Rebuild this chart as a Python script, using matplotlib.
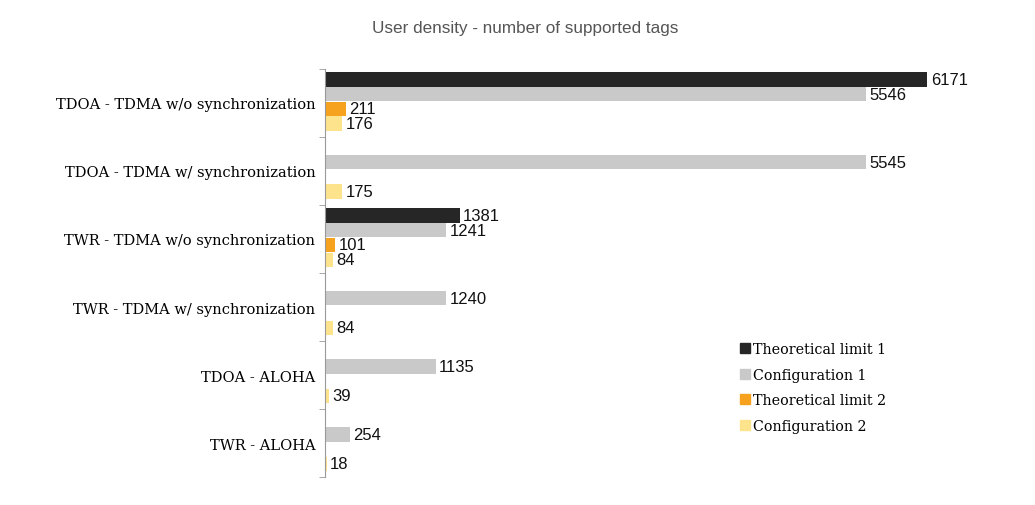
import numpy as np
import matplotlib.pyplot as plt

# --- data ---
categories = [
    "TDOA - TDMA w/o synchronization",
    "TDOA - TDMA w/ synchronization",
    "TWR - TDMA w/o synchronization",
    "TWR - TDMA w/ synchronization",
    "TDOA - ALOHA",
    "TWR - ALOHA",
]
series_names = ["Theoretical limit 1", "Configuration 1", "Theoretical limit 2", "Configuration 2"]
theoretical_1 = [6171, np.nan, 1381, np.nan, np.nan, np.nan]
config_1 = [5546, 5545, 1241, 1240, 1135, 254]
theoretical_2 = [211, np.nan, 101, np.nan, np.nan, np.nan]
config_2 = [176, 175, 84, 84, 39, 18]

colors = ["#262626", "#c9c9c9", "#f6a21e", "#fde48c"]
series = [theoretical_1, config_1, theoretical_2, config_2]

fig = plt.figure(figsize=(10.35, 5.06), dpi=100)
ax = fig.add_axes([0.314, 0.055, 0.656, 0.807])

y = np.arange(len(categories))
step = 0.216
height = 0.21
offsets = (np.arange(4) - 1.5) * step - 0.02

for vals, name, col, off in zip(series, series_names, colors, offsets):
    vals = np.array(vals, dtype=float)
    bars = ax.barh(y + off, vals, height=height, color=col, label=name, edgecolor="none")
    for b, v in zip(bars, vals):
        if np.isnan(v):
            continue
        ax.text(b.get_width() + 35, b.get_y() + b.get_height() / 2, f"{int(v)}",
                va="center", ha="left", fontsize=12, family="Liberation Sans", color="#111111")

ax.set_xlim(0, 6957)
ax.set_ylim(5.5, -0.5)
ax.set_yticks(y)
ax.set_yticklabels(categories, family="DejaVu Serif", fontsize=10.5)
ax.set_yticks(np.arange(-0.5, 6, 1), minor=True)
ax.tick_params(axis="y", which="major", length=0, pad=7)
ax.tick_params(axis="y", which="minor", length=4, color="#999999")
ax.set_xticks([])
for s in ["top", "right", "bottom"]:
    ax.spines[s].set_visible(False)
ax.spines["left"].set_color("#999999")

fig.text(0.507, 1 - 29 / 506, "User density - number of supported tags", ha="center", va="center",
         fontsize=12.3, family="Liberation Sans", color="#555555")

handles = [plt.Line2D([], [], marker="s", linestyle="none", markersize=7, color=c) for c in colors]
ax.legend(handles, series_names, loc="upper left", bbox_to_anchor=(728 / 1035, 1 - 330 / 506),
          bbox_transform=fig.transFigure, frameon=False, handlelength=0.6, handletextpad=0.25,
          labelspacing=0.82, prop={"family": "DejaVu Serif", "size": 10.3})

fig.savefig("out.png", dpi=100)
